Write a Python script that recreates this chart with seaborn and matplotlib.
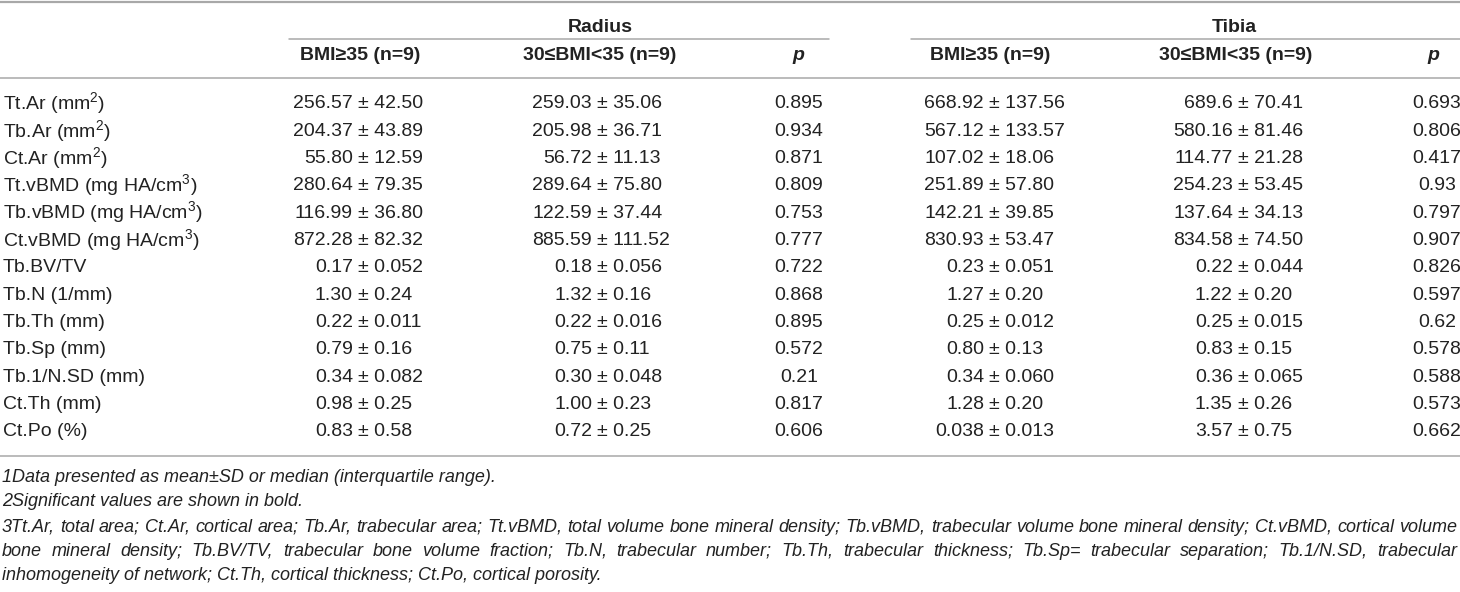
import seaborn as sns
import matplotlib.pyplot as plt

# Tabla: parametros oseos (HR-pQCT) por grupo de IMC

sns.set_theme(style="white")
plt.rcParams['font.family'] = ['Liberation Sans', 'DejaVu Sans']
plt.rcParams['mathtext.fontset'] = 'custom'
plt.rcParams['mathtext.rm'] = 'Liberation Sans'

grupos = ["Radius", "Tibia"]
columnas = ["BMI≥35 (n=9)", "30≤BMI<35 (n=9)", "p"]

parametros = ["Tt.Ar (mm$^{\\mathregular{2}}$)", "Tb.Ar (mm$^{\\mathregular{2}}$)",
              "Ct.Ar (mm$^{\\mathregular{2}}$)", "Tt.vBMD (mg HA/cm$^{\\mathregular{3}}$)",
              "Tb.vBMD (mg HA/cm$^{\\mathregular{3}}$)", "Ct.vBMD (mg HA/cm$^{\\mathregular{3}}$)",
              "Tb.BV/TV", "Tb.N (1/mm)", "Tb.Th (mm)", "Tb.Sp (mm)", "Tb.1/N.SD (mm)",
              "Ct.Th (mm)", "Ct.Po (%)"]

radius_obeso = ["256.57 ± 42.50", "204.37 ± 43.89", "55.80 ± 12.59", "280.64 ± 79.35",
                "116.99 ± 36.80", "872.28 ± 82.32", "0.17 ± 0.052", "1.30 ± 0.24",
                "0.22 ± 0.011", "0.79 ± 0.16", "0.34 ± 0.082", "0.98 ± 0.25", "0.83 ± 0.58"]
radius_sobrepeso = ["259.03 ± 35.06", "205.98 ± 36.71", "56.72 ± 11.13", "289.64 ± 75.80",
                    "122.59 ± 37.44", "885.59 ± 111.52", "0.18 ± 0.056", "1.32 ± 0.16",
                    "0.22 ± 0.016", "0.75 ± 0.11", "0.30 ± 0.048", "1.00 ± 0.23", "0.72 ± 0.25"]
radius_p = ["0.895", "0.934", "0.871", "0.809", "0.753", "0.777", "0.722", "0.868",
            "0.895", "0.572", "0.21", "0.817", "0.606"]

tibia_obeso = ["668.92 ± 137.56", "567.12 ± 133.57", "107.02 ± 18.06", "251.89 ± 57.80",
               "142.21 ± 39.85", "830.93 ± 53.47", "0.23 ± 0.051", "1.27 ± 0.20",
               "0.25 ± 0.012", "0.80 ± 0.13", "0.34 ± 0.060", "1.28 ± 0.20", "0.038 ± 0.013"]
tibia_sobrepeso = ["689.6 ± 70.41", "580.16 ± 81.46", "114.77 ± 21.28", "254.23 ± 53.45",
                   "137.64 ± 34.13", "834.58 ± 74.50", "0.22 ± 0.044", "1.22 ± 0.20",
                   "0.25 ± 0.015", "0.83 ± 0.15", "0.36 ± 0.065", "1.35 ± 0.26", "3.57 ± 0.75"]
tibia_p = ["0.693", "0.806", "0.417", "0.93", "0.797", "0.907", "0.826", "0.597",
           "0.62", "0.578", "0.588", "0.573", "0.662"]

notas = [
    "1Data presented as mean±SD or median (interquartile range).",
    "2Significant values are shown in bold.",
    "3Tt.Ar, total area; Ct.Ar, cortical area; Tb.Ar, trabecular area; Tt.vBMD, total volume bone "
    "mineral density; Tb.vBMD, trabecular volume bone mineral density; Ct.vBMD, cortical volume",
    "bone mineral density; Tb.BV/TV, trabecular bone volume fraction; Tb.N, trabecular number; "
    "Tb.Th, trabecular thickness; Tb.Sp= trabecular separation; Tb.1/N.SD, trabecular",
    "inhomogeneity of network; Ct.Th, cortical thickness; Ct.Po, cortical porosity.",
]

texto = '#222222'
linea = '#a8a8a8'

fig = plt.figure(figsize=(14.6, 5.92), dpi=100)
ax = fig.add_axes([0, 0, 1, 1])
ax.set_xlim(0, 1460)
ax.set_ylim(592, 0)
ax.axis('off')

# lineas horizontales
ax.plot([0, 1460], [1.5, 1.5], color=linea, lw=1.6)
ax.plot([289, 829], [39, 39], color=linea, lw=1.1)
ax.plot([911, 1460], [39, 39], color=linea, lw=1.1)
ax.plot([0, 1460], [78, 78], color=linea, lw=1.1)
ax.plot([0, 1460], [456, 456], color=linea, lw=1.1)

# encabezados
ax.text(600, 27, grupos[0], ha='center', va='center', fontsize=14, fontweight='bold', color=texto)
ax.text(1234, 27, grupos[1], ha='center', va='center', fontsize=14, fontweight='bold', color=texto)

centros_enc = [360, 600, 798, 990, 1236, 1433]
for i, cx in enumerate(centros_enc):
    col = columnas[i % 3]
    estilo = 'italic' if col == 'p' else 'normal'
    ax.text(cx, 55, col, ha='center', va='center', fontsize=14, fontweight='bold',
            fontstyle=estilo, color=texto)

# filas
y0, paso = 104, 27.3
x_pm = [358, 597, 989, 1238]   # posicion del signo ±
series = [radius_obeso, radius_sobrepeso, tibia_obeso, tibia_sobrepeso]

for i, nombre in enumerate(parametros):
    y = y0 + i * paso
    ax.text(3, y, nombre, ha='left', va='center', fontsize=14, color=texto)
    for xs, serie in zip(x_pm, series):
        media, sd = serie[i].split(" ± ")
        ax.text(xs - 5, y, media, ha='right', va='center', fontsize=14, color=texto)
        ax.text(xs, y, "± " + sd, ha='left', va='center', fontsize=14, color=texto)
    ax.text(799, y, radius_p[i], ha='center', va='center', fontsize=14, color=texto)
    ax.text(1437, y, tibia_p[i], ha='center', va='center', fontsize=14, color=texto)

# notas al pie (las lineas 3 y 4 justificadas)
fig.canvas.draw()
renderer = fig.canvas.get_renderer()
y_notas = [478, 502, 527, 551, 575]
for j, nota in enumerate(notas):
    if j in (2, 3):
        palabras = nota.split(" ")
        objs = [ax.text(0, y_notas[j], p, ha='left', va='center', fontsize=13,
                        fontstyle='italic', color=texto) for p in palabras]
        anchos = [o.get_window_extent(renderer).width for o in objs]
        hueco = (1457 - 2 - sum(anchos)) / (len(palabras) - 1)
        x = 2
        for o, w in zip(objs, anchos):
            o.set_x(x)
            x += w + hueco
    else:
        ax.text(2, y_notas[j], nota, ha='left', va='center', fontsize=13,
                fontstyle='italic', color=texto)

fig.savefig("out.png", dpi=100)
